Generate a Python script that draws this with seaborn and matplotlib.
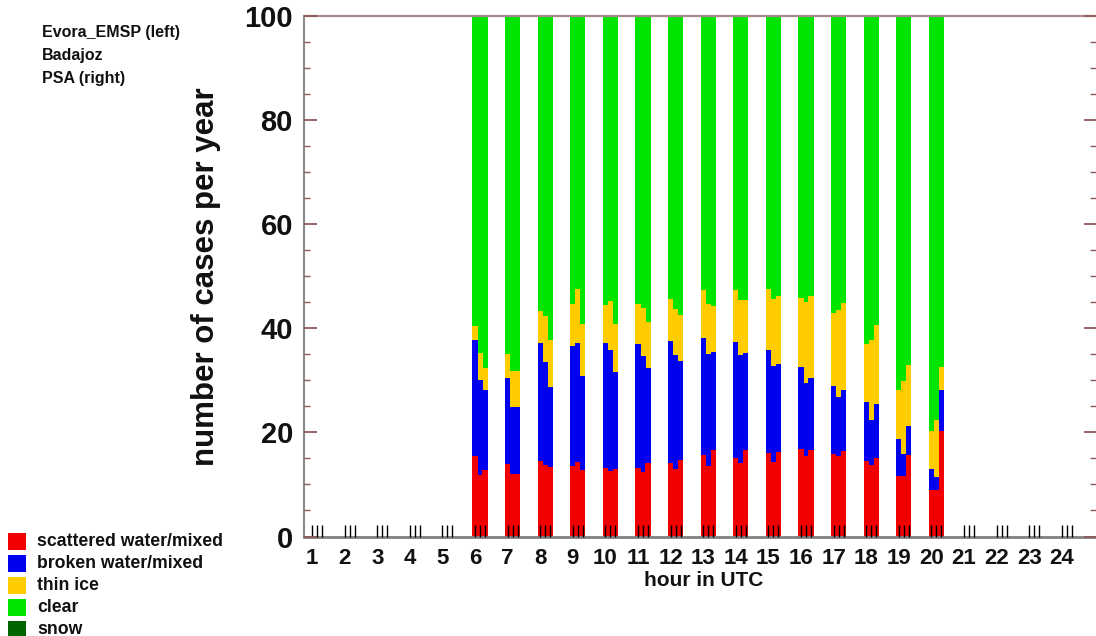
import numpy as np
import pandas as pd
import matplotlib
matplotlib.use("Agg")
import matplotlib.pyplot as plt
import seaborn as sns
from matplotlib.patches import Rectangle

# ---------------- data ----------------
hours = list(range(6, 21))
all_hours = list(range(1, 25))
stations = ["Evora_EMSP (left)", "Badajoz", "PSA (right)"]
categories = ["scattered water/mixed", "broken water/mixed", "thin ice", "clear", "snow"]
colors = ["#f20000", "#0000f0", "#ffcc00", "#00e400", "#006400"]

evora_scattered = [15.4, 13.9, 14.5, 13.5, 13.1, 13.2, 14.1, 15.6, 15.1, 16.0, 16.9, 15.9, 14.6, 11.6, 9.0]
evora_broken    = [22.4, 16.6, 22.7, 23.1, 24.1, 23.7, 23.5, 22.6, 22.3, 19.8, 15.7, 13.0, 11.2, 7.2, 3.9]
evora_thinice   = [2.6, 4.6, 6.1, 8.1, 7.2, 7.8, 8.1, 9.1, 10.0, 11.7, 13.2, 14.1, 11.1, 9.3, 7.3]
evora_clear     = [59.6, 64.9, 56.7, 55.3, 55.6, 55.3, 54.3, 52.7, 52.6, 52.5, 54.2, 57.0, 63.1, 71.9, 79.8]
evora_snow      = [0.0] * 15

badajoz_scattered = [11.9, 12.0, 13.8, 14.3, 12.6, 12.4, 12.9, 13.5, 14.1, 14.4, 15.4, 15.4, 13.7, 11.6, 9.0]
badajoz_broken    = [18.2, 12.9, 19.7, 22.9, 23.2, 22.2, 21.9, 21.5, 20.7, 18.3, 14.0, 11.4, 8.6, 4.3, 2.4]
badajoz_thinice   = [5.2, 6.9, 8.8, 10.3, 9.4, 9.3, 9.0, 9.7, 10.6, 13.0, 15.7, 16.7, 15.5, 14.0, 11.0]
badajoz_clear     = [64.7, 68.2, 57.7, 52.5, 54.8, 56.1, 56.2, 55.3, 54.6, 54.3, 54.9, 56.5, 62.2, 70.1, 77.6]
badajoz_snow      = [0.0] * 15

psa_scattered = [12.8, 12.0, 13.3, 12.7, 13.0, 14.2, 14.7, 16.7, 16.7, 16.2, 16.7, 16.5, 15.1, 15.6, 20.3]
psa_broken    = [15.3, 12.9, 15.5, 18.1, 18.6, 18.2, 19.1, 18.7, 18.6, 16.9, 13.7, 11.6, 10.3, 5.7, 7.9]
psa_thinice   = [4.3, 6.9, 9.0, 10.0, 9.3, 8.8, 8.7, 8.8, 10.1, 13.1, 15.8, 16.8, 15.2, 11.7, 4.4]
psa_clear     = [67.6, 68.2, 62.2, 59.2, 59.1, 58.8, 57.5, 55.8, 54.6, 53.8, 53.8, 55.1, 59.4, 67.0, 67.4]
psa_snow      = [0.0] * 15

station_data = [
    [evora_scattered, evora_broken, evora_thinice, evora_clear, evora_snow],
    [badajoz_scattered, badajoz_broken, badajoz_thinice, badajoz_clear, badajoz_snow],
    [psa_scattered, psa_broken, psa_thinice, psa_clear, psa_snow],
]

# ---------------- layout constants ----------------
W, H = 1096, 636
step = 5 / 32.6                     # offset between the three stations (hour units)
offsets = [0.0, step, 2 * step]

sns.set_theme(style="white")
plt.rcParams["font.family"] = ["Liberation Sans", "DejaVu Sans"]
plt.rcParams["font.weight"] = "bold"
txt_color = "#111111"

fig = plt.figure(figsize=(W / 100, H / 100), dpi=100)
ax_left = 304 / W
ax_bottom = 1 - 536.5 / H
ax_top = 1 - 16 / H
ax = fig.add_axes([ax_left, ax_bottom, 1.0 - ax_left, ax_top - ax_bottom])

# long table with cumulative tops
rows = []
for si, comps in enumerate(station_data):
    for hi, h in enumerate(hours):
        cum = 0.0
        for ci, cat in enumerate(categories):
            v = comps[ci][hi]
            cum += v
            rows.append(dict(pos=round(h + offsets[si], 4), station=stations[si],
                             category=cat, value=v, top=cum))
df = pd.DataFrame(rows)

for cat, col in reversed(list(zip(categories, colors))):
    sub = df[(df.category == cat) & (df.value > 0)]
    if sub.empty:
        continue
    sns.barplot(data=sub, x="pos", y="top", color=col, native_scale=True,
                width=1.06, saturation=1, errorbar=None, linewidth=0, ax=ax)

# axes limits / ticks
x_left = 1 - 8 / 32.6
x_right = x_left + (W - 304) / 32.6
ax.set_xlim(x_left, x_right)
ax.set_ylim(0, 100)
ax.set_xlabel("")
ax.set_ylabel("")
ax.set_axisbelow(False)

ax.set_xticks(all_hours)
ax.set_xticklabels([str(h) for h in all_hours], fontsize=16, fontweight="bold", color=txt_color)
ax.set_xticks([h + o for h in all_hours for o in offsets[1:]], minor=True)
ax.tick_params(axis="x", which="both", direction="in", length=9, width=1.0,
               color="black", bottom=True, top=False, pad=8)

ax.set_yticks(range(0, 101, 20))
ax.set_yticklabels([str(v) for v in range(0, 101, 20)], fontsize=21, fontweight="bold", color=txt_color)
ax.set_yticks(range(0, 101, 5), minor=True)
ax.tick_params(axis="y", which="major", direction="in", length=9, width=1.3,
               color="#8c5a5a", left=True, right=True, pad=8)
ax.tick_params(axis="y", which="minor", direction="in", length=4, width=1.0,
               color="#8c5a5a", left=True, right=True)

ax.spines["right"].set_visible(False)
ax.spines["top"].set_color("#a88888")
ax.spines["top"].set_linewidth(1.6)
ax.spines["bottom"].set_color("#808080")
ax.spines["bottom"].set_linewidth(2.0)
ax.spines["left"].set_color("#8a8a8a")
ax.spines["left"].set_linewidth(1.5)
ax.grid(False)

# axis titles
fig.text(206 / W, 1 - 277 / H, "number of cases per year", rotation=90,
         ha="center", va="center", fontsize=22.5, fontweight="bold", color=txt_color)
fig.text(704 / W, 1 - 580 / H, "hour in UTC", ha="center", va="center",
         fontsize=15, fontweight="bold", color=txt_color)

# station notes (top left)
for i, s in enumerate(stations):
    fig.text(42 / W, 1 - (33 + 22.5 * i) / H, s, ha="left", va="center",
             fontsize=11.5, fontweight="bold", color=txt_color)

# legend (bottom left)
for i, (cat, col) in enumerate(zip(categories, colors)):
    yc = 541 + 22 * i
    fig.patches.append(Rectangle((8 / W, 1 - (yc + 8.5) / H), 18 / W, 17 / H,
                                 transform=fig.transFigure, facecolor=col,
                                 edgecolor="none", figure=fig))
    fig.text(37 / W, 1 - yc / H, cat, ha="left", va="center",
             fontsize=12.7, fontweight="bold", color=txt_color)

fig.savefig("out.png", dpi=100)
